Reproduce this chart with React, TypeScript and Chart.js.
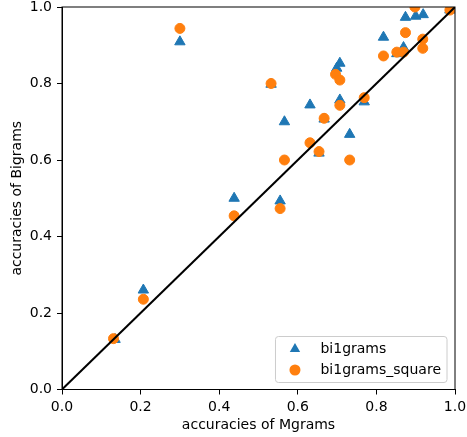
import React, { useEffect, useRef } from "react";
import { Chart, registerables } from "chart.js";

Chart.register(...registerables);

// bi1grams (blue triangles)
const biMgrams = [0.874, 0.900, 0.919, 0.818, 0.869, 0.852, 0.707, 0.699, 0.532, 0.631, 0.707, 0.769, 0.667, 0.566, 0.732, 0.654, 0.555, 0.438, 0.300, 0.207, 0.135, 0.987];
const biBigrams = [0.973, 0.976, 0.980, 0.921, 0.894, 0.878, 0.853, 0.840, 0.798, 0.744, 0.757, 0.752, 0.707, 0.700, 0.667, 0.618, 0.493, 0.500, 0.909, 0.260, 0.131, 0.992];

// bi1grams_square (orange circles)
const sqMgrams = [0.898, 0.987, 0.874, 0.918, 0.918, 0.818, 0.852, 0.869, 0.532, 0.696, 0.707, 0.769, 0.707, 0.667, 0.631, 0.654, 0.566, 0.732, 0.555, 0.438, 0.300, 0.207, 0.131];
const sqBigrams = [1.000, 0.992, 0.933, 0.916, 0.892, 0.872, 0.882, 0.882, 0.800, 0.824, 0.809, 0.763, 0.743, 0.709, 0.645, 0.622, 0.600, 0.600, 0.473, 0.454, 0.944, 0.236, 0.133];

const diagX = [0, 1];
const diagY = [0, 1];

const seriesNames = ["bi1grams", "bi1grams_square"];
const tickValues = [0, 0.2, 0.4, 0.6, 0.8, 1.0];

const BLUE = "#1f77b4";
const ORANGE = "#ff7f0e";
const FONT = "'DejaVu Sans', sans-serif";

const toPts = (xs: number[], ys: number[]) => xs.map((x, i) => ({ x, y: ys[i] }));

export default function App() {
  const ref = useRef<HTMLCanvasElement | null>(null);

  useEffect(() => {
    document.body.style.margin = "0";
    const canvas = ref.current;
    if (!canvas) return;

    const framePlugin = {
      id: "frame",
      afterDatasetsDraw(chart: any) {
        const { ctx, chartArea: a } = chart;
        ctx.save();
        ctx.strokeStyle = "#000";
        ctx.lineWidth = 1;
        ctx.strokeRect(a.left, a.top, a.right - a.left, a.bottom - a.top);
        ctx.restore();
      },
      afterDraw(chart: any) {
        const { ctx, chartArea: a } = chart;
        ctx.save();
        ctx.font = `14px ${FONT}`;
        const tw = Math.max(...seriesNames.map((n) => ctx.measureText(n).width));
        const w = 45 + tw + 6;
        const h = 46;
        const right = a.right - 8;
        const bottom = a.bottom - 7;
        const left = right - w;
        const top = bottom - h;
        const r = 3;
        ctx.beginPath();
        ctx.moveTo(left + r, top);
        ctx.lineTo(right - r, top);
        ctx.quadraticCurveTo(right, top, right, top + r);
        ctx.lineTo(right, bottom - r);
        ctx.quadraticCurveTo(right, bottom, right - r, bottom);
        ctx.lineTo(left + r, bottom);
        ctx.quadraticCurveTo(left, bottom, left, bottom - r);
        ctx.lineTo(left, top + r);
        ctx.quadraticCurveTo(left, top, left + r, top);
        ctx.closePath();
        ctx.fillStyle = "rgba(255,255,255,0.8)";
        ctx.fill();
        ctx.strokeStyle = "#cccccc";
        ctx.lineWidth = 1;
        ctx.stroke();

        const mx = left + 19.5;
        const y1 = top + 12.5;
        const y2 = top + 33.5;
        const tr = 6;
        ctx.fillStyle = BLUE;
        ctx.beginPath();
        ctx.moveTo(mx, y1 - tr);
        ctx.lineTo(mx + tr * 0.866, y1 + tr * 0.5);
        ctx.lineTo(mx - tr * 0.866, y1 + tr * 0.5);
        ctx.closePath();
        ctx.fill();
        ctx.fillStyle = ORANGE;
        ctx.beginPath();
        ctx.arc(mx, y2, 5.5, 0, Math.PI * 2);
        ctx.fill();

        ctx.fillStyle = "#000";
        ctx.textBaseline = "middle";
        ctx.textAlign = "left";
        ctx.fillText(seriesNames[0], left + 45, y1);
        ctx.fillText(seriesNames[1], left + 45, y2);
        ctx.restore();
      },
    };

    const tickFont = { family: FONT, size: 14 };

    const chart = new Chart(canvas, {
      type: "scatter",
      data: {
        datasets: [
          {
            label: "diag",
            data: toPts(diagX, diagY),
            showLine: true,
            borderColor: "#000",
            borderWidth: 2,
            pointRadius: 0,
            order: 0,
          } as any,
          {
            label: seriesNames[1],
            data: toPts(sqMgrams, sqBigrams),
            backgroundColor: ORANGE,
            borderColor: ORANGE,
            borderWidth: 1,
            pointStyle: "circle",
            pointRadius: 5,
            order: 1,
          },
          {
            label: seriesNames[0],
            data: toPts(biMgrams, biBigrams),
            backgroundColor: BLUE,
            borderColor: BLUE,
            borderWidth: 1,
            pointStyle: "triangle",
            pointRadius: 6,
            order: 2,
          },
        ],
      },
      options: {
        animation: false,
        responsive: false,
        maintainAspectRatio: false,
        layout: { padding: { top: 7, right: 12, left: 0, bottom: 0 } },
        plugins: {
          legend: { display: false },
          tooltip: { enabled: false },
        },
        scales: {
          x: {
            type: "linear",
            position: "bottom",
            min: 0,
            max: 1,
            afterBuildTicks: (scale: any) => {
              scale.ticks = tickValues.map((v) => ({ value: v }));
            },
            ticks: {
              color: "#000",
              font: tickFont,
              padding: 4,
              callback: (v: any) => Number(v).toFixed(1),
              maxRotation: 0,
              autoSkip: false,
            },
            grid: { drawOnChartArea: false, drawTicks: true, tickLength: 5, color: "#000", lineWidth: 1 },
            border: { display: true, color: "#000", width: 1 },
            title: {
              display: true,
              text: "accuracies of Mgrams",
              color: "#000",
              font: tickFont,
              padding: { top: 0, bottom: 3.5 },
            },
            afterFit: (scale: any) => {
              scale.height = 47.5;
              scale.paddingLeft = 0;
              scale.paddingRight = 0;
            },
          },
          y: {
            type: "linear",
            position: "left",
            min: 0,
            max: 1,
            afterBuildTicks: (scale: any) => {
              scale.ticks = tickValues.map((v) => ({ value: v }));
            },
            ticks: {
              color: "#000",
              font: tickFont,
              padding: 5,
              callback: (v: any) => Number(v).toFixed(1),
              autoSkip: false,
            },
            grid: { drawOnChartArea: false, drawTicks: true, tickLength: 5, color: "#000", lineWidth: 1 },
            border: { display: true, color: "#000", width: 1 },
            title: {
              display: true,
              text: "accuracies of Bigrams",
              color: "#000",
              font: tickFont,
              padding: { top: 9, bottom: 0 },
            },
            afterFit: (scale: any) => {
              scale.width = 62;
              scale.paddingTop = 0;
              scale.paddingBottom = 0;
            },
          },
        },
      } as any,
      plugins: [framePlugin],
    });

    return () => chart.destroy();
  }, []);

  return (
    <div style={{ width: 467, height: 437, background: "#fff" }}>
      <canvas ref={ref} width={467} height={437} style={{ display: "block" }} />
    </div>
  );
}
